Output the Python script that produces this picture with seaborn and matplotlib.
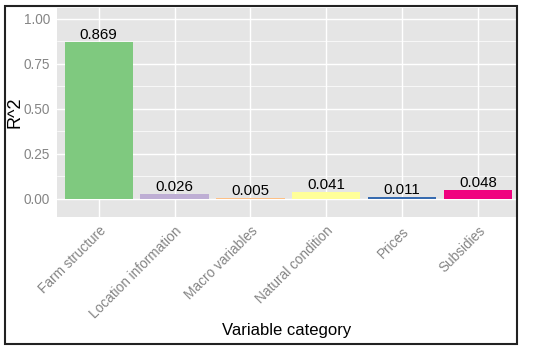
import matplotlib
matplotlib.use("Agg")
import matplotlib.pyplot as plt
import matplotlib.patches as patches
import seaborn as sns
import pandas as pd

# Data
categories = ["Farm structure", "Location information", "Macro variables",
              "Natural condition", "Prices", "Subsidies"]
r2_values = [0.869, 0.026, 0.005, 0.041, 0.011, 0.048]
bar_colors = ["#7FC97F", "#BEAED4", "#FDC086", "#FFFF99", "#386CB0", "#F0027F"]
y_ticks = [0.00, 0.25, 0.50, 0.75, 1.00]

df = pd.DataFrame({"category": categories, "r2": r2_values})

sns.set_style("darkgrid", {"axes.facecolor": "#E5E5E5", "grid.color": "white"})
plt.rcParams["font.family"] = ["Liberation Sans", "DejaVu Sans"]

fig = plt.figure(figsize=(5.5, 3.52), dpi=100)
ax = fig.add_axes([57 / 550, 1 - 217 / 352, (516 - 57) / 550, (217 - 8) / 352])

sns.barplot(data=df, x="category", y="r2", hue="category",
            palette=bar_colors, width=0.9, legend=False, ax=ax,
            saturation=1, linewidth=0)

for i, v in enumerate(r2_values):
    ax.text(i, v, f"{v:.3f}", ha="center", va="bottom",
            fontsize=10.8, color="black")

ax.set_ylim(-0.1, 1.06)
ax.set_xlim(-0.55, 5.5)
ax.set_yticks(y_ticks)
ax.set_yticklabels([f"{t:.2f}" for t in y_ticks])
ax.set_yticks([0.125, 0.375, 0.625, 0.875], minor=True)
ax.grid(which="major", color="white", linewidth=1.0)
ax.grid(which="minor", axis="y", color="white", linewidth=0.5)
ax.set_axisbelow(True)

ax.tick_params(axis="both", which="major", length=3, color="#4D4D4D",
               labelcolor="#858585", labelsize=9.8, pad=2)
ax.tick_params(axis="y", which="minor", length=0)
plt.setp(ax.get_xticklabels(), rotation=45, ha="right",
         rotation_mode="anchor")

for s in ax.spines.values():
    s.set_visible(False)

ax.set_xlabel("Variable category", fontsize=12, color="black", va="center")
ax.xaxis.set_label_coords(0.5, (217 - 331) / 209)
ax.set_ylabel("R^2", fontsize=13, color="black", va="center")
ax.yaxis.set_label_coords((15 - 57) / 459, 0.5)

# outer black frame
frame = patches.Rectangle((5 / 550, 1 - 344 / 352), 512 / 550, 338 / 352,
                          transform=fig.transFigure, fill=False,
                          edgecolor="#222222", linewidth=1.5)
fig.patches.append(frame)

fig.savefig("out.png", dpi=100, facecolor="white")
